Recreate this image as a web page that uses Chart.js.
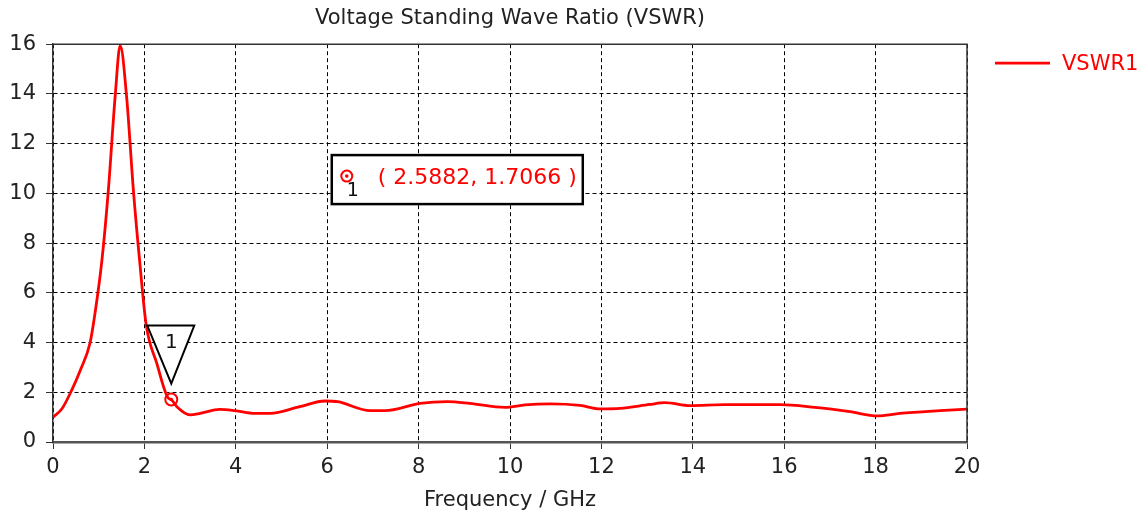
<!DOCTYPE html>
<html>
<head>
<meta charset="utf-8">
<script src="https://cdn.jsdelivr.net/npm/chart.js@4.4.1/dist/chart.umd.min.js"></script>
<style>
    html, body { margin: 0; padding: 0; background: #ffffff; }
    #wrap { width: 1147px; height: 518px; }
</style>
</head>
<body>
<div id="wrap"><canvas id="vswr-chart" width="1147" height="518"></canvas></div>
<script>
// values
const freqGHz = [0, 0.2, 0.41, 0.6, 0.81, 0.92, 1.07, 1.21, 1.36, 1.47, 1.61, 1.76, 1.9, 2.04, 2.27,
    2.52, 2.5882, 2.71, 3.0, 3.22, 3.65, 3.98, 4.42, 4.75, 5.4, 5.95, 6.23, 6.94, 7.26, 8.03, 8.63,
    9.12, 9.89, 10.33, 10.88, 11.53, 11.97, 12.41, 13.06, 13.39, 13.94, 14.7, 15.91, 16.67, 17.44,
    18.04, 18.53, 19.41, 20];
const vswrValues = [1.0, 1.35, 2.09, 2.9, 3.98, 5.19, 7.3, 10.1, 13.9, 15.95, 13.9, 10.1, 7.2, 4.7, 3.17,
    1.77, 1.7066, 1.42, 1.09, 1.15, 1.31, 1.26, 1.15, 1.15, 1.42, 1.65, 1.62, 1.26, 1.26, 1.55, 1.62,
    1.55, 1.39, 1.49, 1.53, 1.47, 1.33, 1.35, 1.51, 1.58, 1.46, 1.5, 1.5, 1.39, 1.22,
    1.05, 1.15, 1.26, 1.32];
const markerFreq = 2.5882;
const markerVswr = 1.7066;
const seriesName = "VSWR1";

const fontFamily = "Tahoma, 'DejaVu Sans', Verdana, sans-serif";
const inkColor = "#222222";

const curvePoints = freqGHz.map(function (f, i) {
    return { x: f, y: vswrValues[i] };
});

const markerPlugin = {
    id: "markerPlugin",
    afterDatasetsDraw: function (chart) {
        const ctx = chart.ctx;
        const area = chart.chartArea;
        const xs = chart.scales.x;
        const ys = chart.scales.y;

        ctx.save();
        // plot frame (top and right)
        ctx.strokeStyle = "#333333";
        ctx.lineWidth = 1.5;
        ctx.beginPath();
        ctx.moveTo(area.left, area.top);
        ctx.lineTo(area.right, area.top);
        ctx.lineTo(area.right, area.bottom);
        ctx.stroke();

        // dot in marker centre
        const mx = xs.getPixelForValue(markerFreq);
        const my = ys.getPixelForValue(markerVswr);
        ctx.fillStyle = "#ff0000";
        ctx.beginPath();
        ctx.arc(mx, my, 1.8, 0, Math.PI * 2);
        ctx.fill();

        // inverted triangle marker above the point
        const tipY = my - 16;
        ctx.beginPath();
        ctx.moveTo(mx - 24, tipY - 58);
        ctx.lineTo(mx + 23, tipY - 58);
        ctx.lineTo(mx, tipY);
        ctx.closePath();
        ctx.fillStyle = "#ffffff";
        ctx.fill();
        ctx.strokeStyle = "#000000";
        ctx.lineWidth = 2;
        ctx.stroke();
        ctx.fillStyle = "#111111";
        ctx.font = "20px " + fontFamily;
        ctx.textAlign = "center";
        ctx.textBaseline = "middle";
        ctx.fillText("1", mx, tipY - 41);

        // annotation box with marker coordinates
        const bx = xs.getPixelForValue(6.1);
        const by = ys.getPixelForValue(11.54);
        const bw = 251;
        const bh = 49;
        ctx.fillStyle = "#ffffff";
        ctx.fillRect(bx, by, bw, bh);
        ctx.strokeStyle = "#000000";
        ctx.lineWidth = 2.5;
        ctx.strokeRect(bx, by, bw, bh);

        const cx = bx + 15;
        const cy = by + 21;
        ctx.strokeStyle = "#ff0000";
        ctx.lineWidth = 2;
        ctx.beginPath();
        ctx.arc(cx, cy, 5.5, 0, Math.PI * 2);
        ctx.stroke();
        ctx.fillStyle = "#ff0000";
        ctx.beginPath();
        ctx.arc(cx, cy, 1.8, 0, Math.PI * 2);
        ctx.fill();
        ctx.fillStyle = "#111111";
        ctx.font = "19px " + fontFamily;
        ctx.fillText("1", cx + 6, cy + 15);

        ctx.fillStyle = "#ff0000";
        ctx.font = "22px " + fontFamily;
        ctx.textAlign = "left";
        ctx.fillText("( " + markerFreq.toFixed(4) + ", " + markerVswr.toFixed(4) + " )", bx + 46, cy + 2);

        // legend on the right, outside the plot
        const ds = chart.data.datasets[0];
        ctx.strokeStyle = ds.borderColor;
        ctx.lineWidth = ds.borderWidth;
        ctx.beginPath();
        ctx.moveTo(area.right + 28, area.top + 19);
        ctx.lineTo(area.right + 83, area.top + 19);
        ctx.stroke();
        ctx.fillStyle = ds.borderColor;
        ctx.font = "21px " + fontFamily;
        ctx.textAlign = "left";
        ctx.fillText(ds.label, area.right + 95, area.top + 20);
        ctx.restore();
    }
};

new Chart(document.getElementById("vswr-chart").getContext("2d"), {
    type: "line",
    data: {
        datasets: [
            {
                label: seriesName,
                data: curvePoints,
                borderColor: "#ff0000",
                backgroundColor: "#ff0000",
                borderWidth: 2.8,
                pointRadius: 0,
                fill: false,
                cubicInterpolationMode: "monotone"
            },
            {
                label: "marker",
                data: [{ x: markerFreq, y: markerVswr }],
                showLine: false,
                pointRadius: 6,
                pointBorderWidth: 2,
                pointBorderColor: "#ff0000",
                pointBackgroundColor: "#ffffff"
            }
        ]
    },
    options: {
        responsive: false,
        animation: false,
        layout: { padding: { left: 0, right: 180, top: 0, bottom: 0 } },
        plugins: {
            title: {
                display: true,
                fullSize: false,
                text: "Voltage Standing Wave Ratio (VSWR)",
                color: inkColor,
                font: { family: fontFamily, size: 21, weight: "normal" },
                padding: { top: 6, bottom: 13 }
            },
            legend: { display: false },
            tooltip: { enabled: false }
        },
        scales: {
            x: {
                type: "linear",
                min: 0,
                max: 20,
                afterFit: function (scale) { scale.height = 76; },
                ticks: {
                    stepSize: 2,
                    color: inkColor,
                    padding: 6,
                    maxRotation: 0,
                    font: { family: fontFamily, size: 21 }
                },
                grid: { color: "#000000", lineWidth: 1, tickLength: 7, tickColor: "#333333" },
                border: { display: true, color: "#555555", width: 2.5, dash: [4, 3] },
                title: {
                    display: true,
                    text: "Frequency / GHz",
                    color: inkColor,
                    font: { family: fontFamily, size: 21 },
                    padding: { top: 0, bottom: 5 }
                }
            },
            y: {
                min: 0,
                max: 16,
                afterFit: function (scale) { scale.width = 53; },
                ticks: {
                    stepSize: 2,
                    color: inkColor,
                    padding: 10,
                    font: { family: fontFamily, size: 21 }
                },
                grid: { color: "#000000", lineWidth: 1, tickLength: 7, tickColor: "#333333" },
                border: { display: true, color: "#333333", width: 1.5, dash: [4, 3] }
            }
        }
    },
    plugins: [markerPlugin]
});
</script>
</body>
</html>
